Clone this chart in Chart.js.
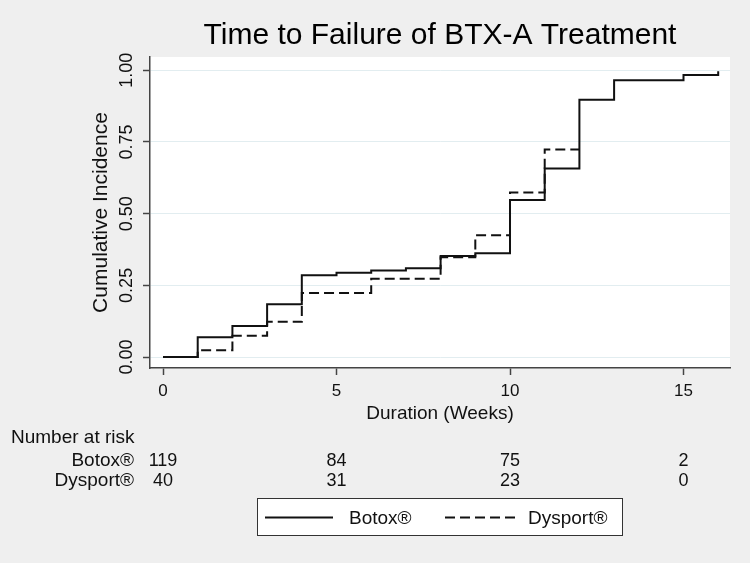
<!DOCTYPE html>
<html>
<head>
<meta charset="utf-8">
<title>Time to Failure of BTX-A Treatment</title>
<script src="https://cdn.jsdelivr.net/npm/chart.js@4.4.1/dist/chart.umd.min.js"></script>
<style>
  html, body { margin: 0; padding: 0; background: #efefef; }
  #wrap { width: 750px; height: 563px; }
</style>
</head>
<body>
<div id="wrap"><canvas id="kmChart" width="750" height="563"></canvas></div>
<script>
// Cumulative incidence (step values)
const botoxWeeks = [0, 1, 2, 3, 4, 5, 6, 7, 8, 9, 10, 11, 12, 13, 15, 16];
const botoxIncidence = [0, 0.069, 0.108, 0.184, 0.285, 0.294, 0.302, 0.310, 0.352, 0.362, 0.548, 0.657, 0.897, 0.965, 0.983, 0.996];
const dysportWeeks = [0, 1, 2, 3, 4, 6, 8, 9, 10, 11, 12];
const dysportIncidence = [0, 0.024, 0.074, 0.123, 0.223, 0.273, 0.348, 0.425, 0.574, 0.724, 0.724];

const xTicks = [0, 5, 10, 15];
const yTicks = [0, 0.25, 0.5, 0.75, 1];

// Number at risk table
const riskWeeks = [0, 5, 10, 15];
const botoxAtRisk = [119, 84, 75, 2];
const dysportAtRisk = [40, 31, 23, 0];

const FONT = '"Liberation Sans", Arial, Helvetica, sans-serif';

function toPoints(xs, ys) {
  return xs.map((x, i) => ({ x: x, y: ys[i] }));
}

// White plot region, rotated y labels, risk table and boxed legend
const stataExtras = {
  id: 'stataExtras',
  beforeDraw(chart) {
    const { ctx, chartArea: a } = chart;
    ctx.save();
    ctx.fillStyle = '#ffffff';
    ctx.fillRect(a.left, a.top, a.right - a.left, a.bottom - a.top);
    ctx.restore();
  },
  afterDraw(chart) {
    const { ctx } = chart;
    const xs = chart.scales.x;
    const ys = chart.scales.y;
    ctx.save();
    ctx.fillStyle = '#111';

    // y tick labels, rotated like Stata
    ctx.font = '18px ' + FONT;
    ctx.textAlign = 'center';
    ctx.textBaseline = 'middle';
    yTicks.forEach(v => {
      ctx.save();
      ctx.translate(127, ys.getPixelForValue(v));
      ctx.rotate(-Math.PI / 2);
      ctx.fillText(v.toFixed(2), 0, 0);
      ctx.restore();
    });

    // number at risk
    ctx.textBaseline = 'alphabetic';
    ctx.font = '19px ' + FONT;
    ctx.textAlign = 'left';
    ctx.fillText('Number at risk', 11, 443);
    ctx.textAlign = 'right';
    ctx.fillText(chart.data.datasets[0].label, 134, 466);
    ctx.fillText(chart.data.datasets[1].label, 134, 486);
    ctx.font = '18px ' + FONT;
    ctx.textAlign = 'center';
    riskWeeks.forEach((w, i) => {
      const px = xs.getPixelForValue(w);
      ctx.fillText(String(botoxAtRisk[i]), px, 466);
      ctx.fillText(String(dysportAtRisk[i]), px, 486);
    });

    // legend box
    ctx.fillStyle = '#ffffff';
    ctx.fillRect(257, 498, 365, 37);
    ctx.strokeStyle = '#333';
    ctx.lineWidth = 1;
    ctx.strokeRect(257.5, 498.5, 365, 37);
    const slots = [{ x0: 265, x1: 333, tx: 349 }, { x0: 445, x1: 515, tx: 528 }];
    chart.data.datasets.forEach((ds, i) => {
      const s = slots[i];
      ctx.strokeStyle = ds.borderColor;
      ctx.lineWidth = ds.borderWidth;
      ctx.setLineDash(ds.borderDash || []);
      ctx.beginPath();
      ctx.moveTo(s.x0, 517.5);
      ctx.lineTo(s.x1, 517.5);
      ctx.stroke();
      ctx.setLineDash([]);
      ctx.fillStyle = '#111';
      ctx.font = '19px ' + FONT;
      ctx.textAlign = 'left';
      ctx.fillText(ds.label, s.tx, 524);
    });
    ctx.restore();
  }
};

new Chart(document.getElementById('kmChart'), {
  type: 'line',
  data: {
    datasets: [
      {
        label: 'Botox®',
        data: toPoints(botoxWeeks, botoxIncidence),
        stepped: 'before',
        borderColor: '#111',
        borderWidth: 2,
        pointRadius: 0,
        fill: false
      },
      {
        label: 'Dysport®',
        data: toPoints(dysportWeeks, dysportIncidence),
        stepped: 'before',
        borderColor: '#111',
        borderWidth: 2,
        borderDash: [10, 5],
        pointRadius: 0,
        fill: false
      }
    ]
  },
  options: {
    responsive: false,
    animation: false,
    layout: { padding: { left: 0, right: 20, top: 0, bottom: 138 } },
    plugins: {
      legend: { display: false },
      tooltip: { enabled: false },
      title: {
        display: true,
        fullSize: false,
        text: 'Time to Failure of BTX-A Treatment',
        color: '#000',
        font: { family: FONT, size: 30, weight: 'normal' },
        padding: { top: 18, bottom: 3 }
      }
    },
    scales: {
      x: {
        type: 'linear',
        min: -0.375,
        max: 16.34,
        afterBuildTicks: s => { s.ticks = xTicks.map(v => ({ value: v })); },
        afterFit: s => { s.height = 57; },
        grid: { drawOnChartArea: false, tickLength: 7, tickColor: '#444', tickWidth: 1.5 },
        border: { color: '#444', width: 1.5 },
        ticks: { color: '#111', font: { family: FONT, size: 17 }, padding: 6, maxRotation: 0 },
        title: {
          display: true,
          text: 'Duration (Weeks)',
          color: '#111',
          font: { family: FONT, size: 19 },
          padding: 0
        }
      },
      y: {
        type: 'linear',
        min: -0.038,
        max: 1.046,
        afterBuildTicks: s => { s.ticks = yTicks.map(v => ({ value: v })); },
        afterFit: s => { s.width = 150; },
        grid: { color: '#e2edf0', lineWidth: 1, tickLength: 7, tickColor: '#444', tickWidth: 1.5 },
        border: { color: '#444', width: 1.5 },
        ticks: { display: false },
        title: {
          display: true,
          text: 'Cumulative Incidence',
          color: '#111',
          font: { family: FONT, size: 21 },
          padding: { top: 89, bottom: 0 }
        }
      }
    }
  },
  plugins: [stataExtras]
});
</script>
</body>
</html>
